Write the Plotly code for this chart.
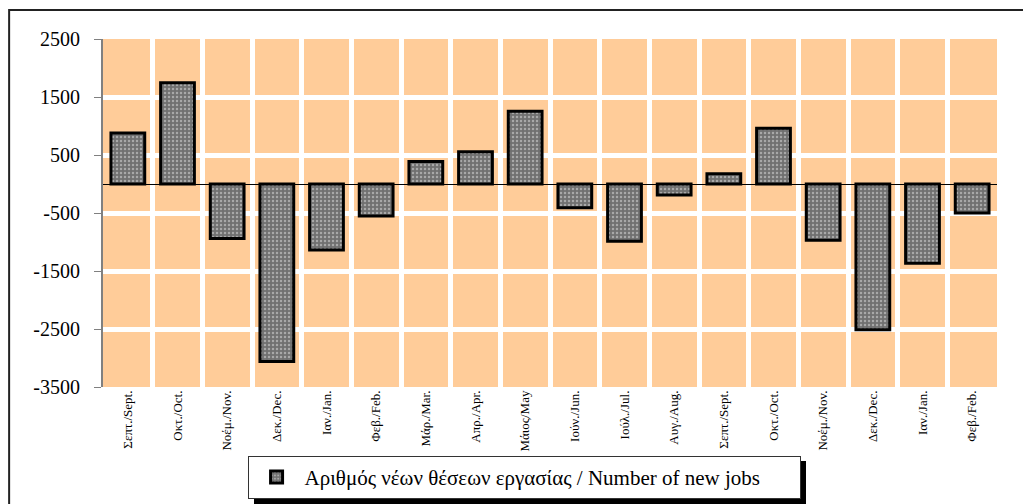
import plotly.graph_objects as go

months = ["Σεπτ./Sept.", "Οκτ./Oct.", "Νοέμ./Nov.", "Δεκ./Dec.", "Ιαν./Jan.", "Φεβ./Feb.",
          "Μάρ./Mar.", "Απρ./Apr.", "Μάιος/May", "Ιούν./Jun.", "Ιούλ./Jul.", "Αυγ./Aug.",
          "Σεπτ./Sept.", "Οκτ./Oct.", "Νοέμ./Nov.", "Δεκ./Dec.", "Ιαν./Jan.", "Φεβ./Feb."]
new_jobs = [880, 1745, -940, -3060, -1140, -550,
            390, 555, 1255, -410, -985, -190,
            175, 960, -970, -2515, -1365, -500]
series_name = "Αριθμός νέων θέσεων εργασίας / Number of new jobs"
y_ticks = [-3500, -2500, -1500, -500, 500, 1500, 2500]
y_tick_text = [str(v) for v in y_ticks]

x_pos = list(range(len(months)))

fig = go.Figure()
fig.add_trace(go.Bar(
    x=x_pos, y=new_jobs, name=series_name, width=0.68,
    marker=dict(color="#808080",
                line=dict(color="black", width=3),
                pattern=dict(shape=".", bgcolor="#707070", fgcolor="#e0e0e0", size=4, solidity=0.3)),
    showlegend=True,
))

serif = "Liberation Serif, Times New Roman, serif"
fig.update_layout(
    width=1031, height=504,
    margin=dict(l=95, r=42, t=31, b=125, autoexpand=False),
    paper_bgcolor="white", plot_bgcolor="#FFCC99",
    font=dict(family=serif, color="black"),
    showlegend=True,
    legend=dict(orientation="h", x=0.471, xanchor="center", y=-0.198, yanchor="top",
                bgcolor="white", bordercolor="#333333", borderwidth=1,
                font=dict(family=serif, size=21), itemwidth=46, entrywidth=490),
    xaxis=dict(range=[-0.5, len(months) - 0.5], tickmode="array", tickvals=x_pos, ticktext=months,
               tickangle=-90, tickfont=dict(family=serif, size=13), showgrid=False,
               showline=False, ticks="", zeroline=False, automargin=False,
               minor=dict(tickmode="linear", tick0=0.5, dtick=1, showgrid=True,
                          gridcolor="white", gridwidth=5, ticks="")),
    yaxis=dict(range=[-3500, 2500], tickmode="array", tickvals=y_ticks, ticktext=y_tick_text,
               tickfont=dict(family=serif, size=20), showgrid=True, gridcolor="white", gridwidth=5,
               zeroline=True, zerolinecolor="black", zerolinewidth=1, automargin=False,
               showline=True, linecolor="#808080", linewidth=2, ticks="outside", ticklen=7,
               tickcolor="#808080", ticklabelstandoff=10),
    shapes=[
        dict(type="rect", xref="paper", yref="paper", x0=-0.105, x1=1.06, y0=-0.4, y1=1.083,
             line=dict(color="#222222", width=2), fillcolor="rgba(0,0,0,0)", layer="below"),
        dict(type="rect", xref="paper", yref="paper",
             x0=(254 - 103) / 894, x1=(806 - 103) / 894,
             y0=(387 - 506) / 348, y1=(387 - 461) / 348,
             line=dict(width=0), fillcolor="black", layer="above"),
    ],
)

fig.write_html("out.html")
